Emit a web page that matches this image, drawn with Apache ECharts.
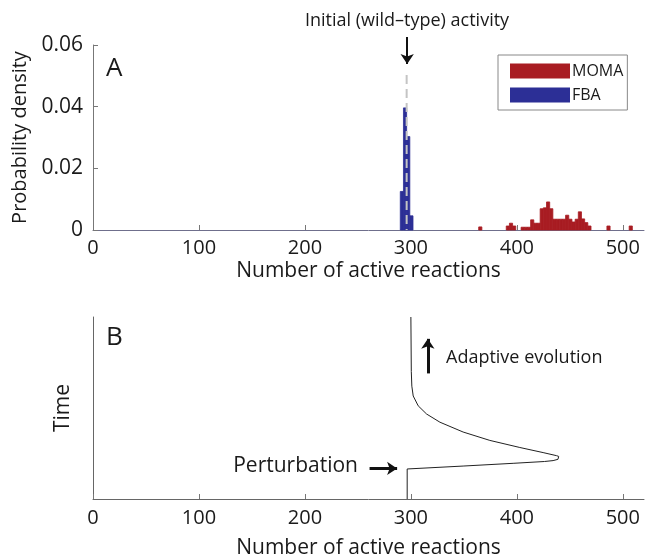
<!DOCTYPE html>
<html>
<head>
<meta charset="utf-8">
<script src="https://cdn.jsdelivr.net/npm/echarts@6/dist/echarts.min.js"></script>
<style>
  html, body { margin: 0; padding: 0; background: #fff; }
  #chart { width: 645px; height: 560px; }
</style>
</head>
<body>
<div id="chart"></div>
<script>
// panel A: histograms (left edge of each bin, density), bins are 3 reactions wide
var binWidth = 3;
var fbaBinStart = [290, 293, 296, 299];
var fbaDensity = [0.0125, 0.0396, 0.0303, 0.0046];
var momaBinStart = [364, 390, 393, 396, 404, 407, 410, 413, 416, 419, 422, 425, 428, 431,
    434, 437, 440, 443, 446, 449, 452, 455, 458, 461, 464, 467, 485, 506];
var momaDensity = [0.001, 0.0013, 0.0022, 0.0013, 0.0009, 0.0009, 0.0009, 0.0033, 0.0022, 0.0022,
    0.0069, 0.0072, 0.0091, 0.0069, 0.0035, 0.0035, 0.0035, 0.0035, 0.0048, 0.0035, 0.0026,
    0.0035, 0.0059, 0.0036, 0.0024, 0.0013, 0.0013, 0.0013];
var wildType = 296;

// panel B: trajectory (reactions vs time)
var curveX = [296.5, 296.5, 349.3, 396.5, 426, 434.2, 438.8, 440.6, 439.5, 437.5, 424.8, 402.8,
    374.5, 349.3, 327.4, 314.8, 306.9, 302.2, 300.9, 300.4, 300];
var curveT = [0, 16.5, 18.1, 19.6, 20.6, 21.1, 21.8, 22.8, 23.4, 23.8, 25.5, 28.3,
    32.2, 36.8, 42.2, 46.7, 51.2, 56.6, 62, 70, 100];

var xTicks = [0, 100, 200, 300, 400, 500];

var font = '"Open Sans", "Noto Sans", sans-serif';
var textColor = '#1a1a1a';

function bins(starts, vals) {
    return starts.map(function (s, i) { return [s, s + binWidth, vals[i]]; });
}

function renderBin(color) {
    return function (params, api) {
        var p0 = api.coord([api.value(0), api.value(2)]);
        var p1 = api.coord([api.value(1), 0]);
        return {
            type: 'rect',
            shape: { x: p0[0], y: p0[1], width: p1[0] - p0[0], height: p1[1] - p0[1] },
            style: { fill: color, stroke: color, lineWidth: 0.8 }
        };
    };
}

var chart = echarts.init(document.getElementById('chart'));

function xAxisFor(idx, lineColor, gap, margin) {
    return {
        type: 'value', gridIndex: idx, min: 0, max: 520, interval: 100,
        name: 'Number of active reactions', nameLocation: 'middle', nameGap: gap,
        nameTextStyle: { fontFamily: font, fontSize: 21, color: textColor },
        axisLine: { show: true, onZero: false, lineStyle: { color: lineColor, width: 1 } },
        axisTick: { show: true, inside: true, length: 5, lineStyle: { color: '#777' } },
        axisLabel: {
            fontFamily: font, fontSize: 20, color: textColor, margin: margin, showMaxLabel: false,
            formatter: function (v) { return xTicks.indexOf(v) >= 0 ? String(v) : ''; }
        },
        splitLine: { show: false }
    };
}

var option = {
    animation: false,
    backgroundColor: '#fff',
    grid: [
        { left: 93, top: 45, width: 551, height: 185 },
        { left: 93, top: 317, width: 551, height: 184 }
    ],
    xAxis: [xAxisFor(0, '#6f6f8c', 31, 8), xAxisFor(1, '#666', 39, 9)],
    yAxis: [
        {
            type: 'value', gridIndex: 0, min: 0, max: 0.06, interval: 0.02,
            name: 'Probability density', nameLocation: 'middle', nameGap: 56,
            nameTextStyle: { fontFamily: font, fontSize: 20, color: textColor },
            axisLine: { show: true, lineStyle: { color: '#777', width: 1 } },
            axisTick: { show: true, inside: true, length: 5, lineStyle: { color: '#777' } },
            axisLabel: { fontFamily: font, fontSize: 21, color: textColor, margin: 10 },
            splitLine: { show: false }
        },
        {
            type: 'value', gridIndex: 1, min: 0, max: 100,
            name: 'Time', nameLocation: 'middle', nameGap: 19,
            nameTextStyle: { fontFamily: font, fontSize: 21, color: textColor },
            axisLine: { show: true, lineStyle: { color: '#666', width: 1 } },
            axisTick: { show: false },
            axisLabel: { show: false },
            splitLine: { show: false }
        }
    ],
    legend: {
        orient: 'vertical', left: 498, top: 55,
        data: [{ name: 'MOMA', icon: 'rect' }, { name: 'FBA', icon: 'rect' }],
        itemWidth: 60, itemHeight: 15, itemGap: 8,
        padding: [8, 4, 7, 12],
        borderColor: '#888', borderWidth: 1, borderRadius: 0,
        backgroundColor: '#fff',
        textStyle: { fontFamily: font, fontSize: 16, color: textColor, padding: [0, 0, 0, -3] }
    },
    graphic: [
        { type: 'text', left: 106, top: 56, style: { text: 'A', font: '26px ' + font, fill: textColor } },
        { type: 'text', left: 106, top: 325, style: { text: 'B', font: '26px ' + font, fill: textColor } },
        { type: 'text', x: 407, y: 21, style: { text: 'Initial (wild\u2013type) activity', font: '18px ' + font, fill: textColor, align: 'center', verticalAlign: 'middle' } },
        { type: 'text', x: 446, y: 358, style: { text: 'Adaptive evolution', font: '18px ' + font, fill: textColor, verticalAlign: 'middle' } },
        { type: 'text', x: 358, y: 466, style: { text: 'Perturbation', font: '21px ' + font, fill: textColor, align: 'right', verticalAlign: 'middle' } }
    ],
    series: [
        {
            name: 'MOMA', type: 'custom', xAxisIndex: 0, yAxisIndex: 0,
            color: '#a81c22',
            renderItem: renderBin('#a81c22'),
            encode: { x: [0, 1], y: 2 },
            data: bins(momaBinStart, momaDensity)
        },
        {
            name: 'FBA', type: 'custom', xAxisIndex: 0, yAxisIndex: 0,
            color: '#2c2f96',
            renderItem: renderBin('#2c2f96'),
            encode: { x: [0, 1], y: 2 },
            data: bins(fbaBinStart, fbaDensity)
        },
        {
            name: 'wild type', type: 'line', xAxisIndex: 0, yAxisIndex: 0,
            clip: false, symbol: 'none', z: 5,
            lineStyle: { color: '#c4c4c4', width: 2, type: [9, 5] },
            data: [[wildType, 0.0503], [wildType, 0]]
        },
        {
            name: 'trajectory', type: 'line', xAxisIndex: 1, yAxisIndex: 1,
            clip: false, symbol: 'none', smooth: false,
            lineStyle: { color: '#222', width: 1 },
            data: curveX.map(function (x, i) { return [x, curveT[i]]; }),
            markLine: {
                silent: true, symbol: ['none', 'arrow'], symbolSize: 10,
                lineStyle: { color: '#111', width: 3, type: 'solid' },
                label: { show: false },
                data: [
                    [{ coord: [316, 69] }, { coord: [316, 88] }],
                    [{ coord: [261, 16.8] }, { coord: [287, 16.8] }]
                ]
            }
        }
    ]
};

chart.setOption(option);

// arrow above the wild-type line sits outside the plot area, so place it in pixels
var arrowX = chart.convertToPixel({ xAxisIndex: 0 }, wildType + 0.5);
chart.setOption({
    series: [{}, {}, {
        markLine: {
            silent: true, symbol: ['none', 'arrow'], symbolSize: 10,
            lineStyle: { color: '#111', width: 2, type: 'solid' },
            label: { show: false },
            data: [[{ x: arrowX, y: 37 }, { x: arrowX, y: 64 }]]
        }
    }, {}]
});
</script>
</body>
</html>
